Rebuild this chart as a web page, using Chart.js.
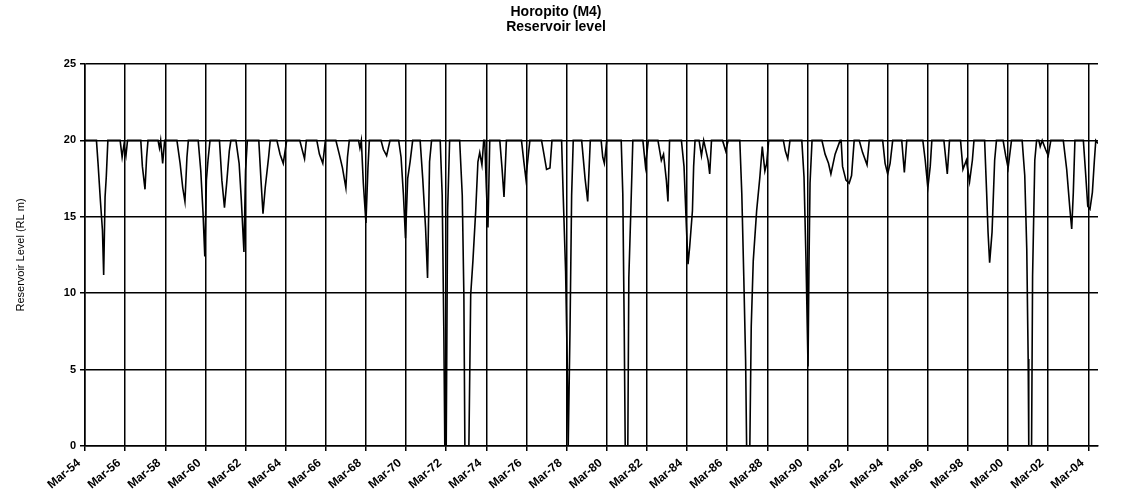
<!DOCTYPE html>
<html>
<head>
  <script src="https://cdn.jsdelivr.net/npm/chart.js"></script>
  <title>Horopito (M4) Reservoir level</title>
  <style>
    body { margin: 0; background: #fff; }
  </style>
</head>
<body>
  <canvas id="levelChart" width="1124" height="494"></canvas>

  <script>
    // x positions are decimal years, y is reservoir level (RL m)
    const years = [
      1954.17,
      1954.74, 1954.82, 1954.94, 1955.04, 1955.10, 1955.17, 1955.23, 1955.31,
      1955.92, 1956.02, 1956.11, 1956.21, 1956.29,
      1956.95, 1957.03, 1957.16, 1957.24, 1957.31,
      1957.81, 1957.88, 1957.94, 1958.04, 1958.14,
      1958.75, 1958.91, 1959.04, 1959.15, 1959.25, 1959.32,
      1959.81, 1959.94, 1960.05, 1960.14, 1960.22, 1960.30, 1960.40,
      1960.87, 1960.99, 1961.12, 1961.23, 1961.36, 1961.44,
      1961.69, 1961.85, 1961.96, 1962.09, 1962.17, 1962.26,
      1962.83, 1962.94, 1963.04, 1963.15, 1963.32, 1963.40,
      1963.73, 1963.89, 1964.05, 1964.22,
      1964.87, 1965.11, 1965.20,
      1965.72, 1965.85, 1966.02, 1966.15,
      1966.67, 1966.84, 1967.00, 1967.17, 1967.25, 1967.34,
      1967.80, 1967.87, 1967.94, 1968.04, 1968.17, 1968.27, 1968.34,
      1968.92, 1969.04, 1969.20, 1969.37,
      1969.80, 1969.92, 1970.04, 1970.14, 1970.25, 1970.37, 1970.50,
      1970.87, 1971.00, 1971.14, 1971.24, 1971.34, 1971.44,
      1971.87, 1971.97, 1972.05, 1972.10, 1972.17, 1972.24, 1972.34,
      1972.84, 1972.97, 1973.05, 1973.10, 1973.30, 1973.39, 1973.50, 1973.64, 1973.75, 1973.84, 1973.95, 1974.04,
      1974.09, 1974.17, 1974.25, 1974.34,
      1974.84, 1974.95, 1975.05, 1975.17,
      1975.92, 1976.04, 1976.14, 1976.25, 1976.34,
      1976.92, 1977.04, 1977.17, 1977.34, 1977.44,
      1977.92, 1978.00, 1978.12, 1978.20, 1978.25, 1978.34, 1978.42, 1978.50,
      1978.92, 1979.09, 1979.22, 1979.35,
      1979.89, 1979.97, 1980.05, 1980.17,
      1980.89, 1980.97, 1981.04, 1981.09, 1981.22, 1981.27, 1981.37, 1981.47,
      1981.97, 1982.10, 1982.24,
      1982.72, 1982.89, 1983.00, 1983.14, 1983.22, 1983.30,
      1983.89, 1984.02, 1984.14, 1984.22, 1984.30, 1984.44, 1984.50, 1984.57,
      1984.77, 1984.89, 1985.00, 1985.22, 1985.30, 1985.39,
      1985.94, 1986.10, 1986.22,
      1986.80, 1986.90, 1987.00, 1987.09, 1987.14, 1987.30, 1987.37, 1987.47, 1987.64, 1987.80, 1987.92, 1988.05, 1988.14, 1988.24,
      1988.97, 1989.07, 1989.19, 1989.30,
      1989.89, 1990.00, 1990.10, 1990.20, 1990.25, 1990.30, 1990.40,
      1990.89, 1991.05, 1991.22, 1991.34, 1991.55, 1991.80,
      1991.85, 1991.92, 1992.09, 1992.25, 1992.37, 1992.50,
      1992.75, 1992.92, 1993.14, 1993.25,
      1993.92, 1994.04, 1994.17, 1994.29, 1994.42,
      1994.87, 1995.00, 1995.12,
      1995.92, 1996.04, 1996.17, 1996.29, 1996.37,
      1996.97, 1997.14, 1997.25,
      1997.80, 1997.92, 1998.09, 1998.25, 1998.39, 1998.47,
      1999.00, 1999.10, 1999.17, 1999.25, 1999.37, 1999.50, 1999.59,
      1999.92, 2000.05, 2000.17, 2000.34,
      2000.87, 2001.00, 2001.10, 2001.17, 2001.20, 2001.34, 2001.39, 2001.50, 2001.59,
      2001.70, 2001.77, 2001.87, 2002.04, 2002.17, 2002.30,
      2002.92, 2003.09, 2003.25, 2003.34, 2003.42, 2003.50,
      2003.92, 2004.04, 2004.14, 2004.25, 2004.37, 2004.47, 2004.54,
      2004.65
    ];
    const levels = [
      20,
      20, 18.5, 16.0, 14.1, 11.2, 16.3, 17.6, 20,
      20, 18.9, 19.7, 19.0, 20,
      20, 18.3, 16.8, 18.9, 20,
      20, 19.5, 20, 18.5, 20,
      20, 18.5, 16.9, 16.0, 18.9, 20,
      20, 18.0, 15.3, 12.4, 17.4, 18.7, 20,
      20, 17.4, 15.6, 17.2, 19.3, 20,
      20, 18.5, 16.1, 12.7, 18.0, 20,
      20, 17.4, 15.2, 16.9, 18.9, 20,
      20, 19.1, 18.5, 20,
      20, 18.8, 20,
      20, 19.1, 18.5, 20,
      20, 19.1, 18.2, 16.9, 18.9, 20,
      20, 19.5, 20, 17.2, 14.6, 18.2, 20,
      20, 19.4, 19.0, 20,
      20, 18.9, 16.4, 13.6, 17.5, 18.6, 20,
      20, 17.5, 14.3, 11.0, 18.6, 20,
      20, 16.4, 7.7, 0, 0, 15.4, 20,
      20, 16.4, 9.9, 0, 0, 9.9, 12.1, 15.4, 18.6, 19.2, 18.4, 20,
      20, 16.9, 14.3, 20,
      20, 18.2, 16.3, 20,
      20, 18.6, 17.5, 18.9, 20,
      20, 19.1, 18.1, 18.2, 20,
      20, 16.4, 11.4, 5.5, 0, 7.7, 16.4, 20,
      20, 17.5, 16.0, 20,
      20, 18.9, 18.5, 20,
      20, 16.5, 7.8, 0, 0, 11.0, 15.4, 20,
      20, 18.3, 20,
      20, 18.7, 19.1, 17.4, 16.0, 20,
      20, 18.3, 14.3, 11.9, 13.0, 15.4, 18.3, 20,
      20, 19.0, 20, 18.7, 17.8, 20,
      20, 19.3, 20,
      20, 16.5, 11.0, 5.6, 0, 0, 7.8, 12.1, 15.4, 17.6, 19.6, 18.0, 18.5, 20,
      20, 19.3, 18.8, 20,
      20, 17.6, 12.1, 5.2, 12.1, 17.2, 20,
      20, 19.1, 18.5, 17.8, 19.1, 20,
      20, 18.3, 17.4, 17.2, 17.7, 20,
      20, 19.2, 18.4, 20,
      20, 18.5, 17.8, 18.5, 20,
      20, 17.9, 20,
      20, 18.7, 16.9, 18.3, 20,
      20, 17.8, 20,
      20, 18.1, 18.7, 17.3, 18.7, 20,
      20, 16.6, 14.0, 12.0, 14.0, 18.7, 20,
      20, 19.0, 18.2, 20,
      20, 17.7, 12.9, 5.7, 0, 0, 11.1, 18.7, 20,
      20, 19.6, 20, 19.4, 19.0, 20,
      20, 18.1, 15.5, 14.2, 16.6, 20,
      20, 17.7, 15.7, 15.5, 16.6, 18.7, 20,
      19.8
    ];

    // March of every second year
    const tickYears = [1954.17, 1956.17, 1958.17, 1960.17, 1962.17, 1964.17, 1966.17, 1968.17, 1970.17,
      1972.17, 1974.17, 1976.17, 1978.17, 1980.17, 1982.17, 1984.17, 1986.17, 1988.17, 1990.17,
      1992.17, 1994.17, 1996.17, 1998.17, 2000.17, 2002.17, 2004.17];
    const tickLabels = ['Mar-54', 'Mar-56', 'Mar-58', 'Mar-60', 'Mar-62', 'Mar-64', 'Mar-66', 'Mar-68', 'Mar-70',
      'Mar-72', 'Mar-74', 'Mar-76', 'Mar-78', 'Mar-80', 'Mar-82', 'Mar-84', 'Mar-86', 'Mar-88', 'Mar-90',
      'Mar-92', 'Mar-94', 'Mar-96', 'Mar-98', 'Mar-00', 'Mar-02', 'Mar-04'];

    const fontFamily = '"Liberation Sans", Arial, sans-serif';

    const ctx = document.getElementById('levelChart').getContext('2d');
    const chart = new Chart(ctx, {
      type: 'line',
      data: {
        datasets: [{
          label: 'Reservoir level',
          data: years.map((x, i) => ({ x: x, y: levels[i] })),
          borderColor: '#000',
          borderWidth: 1.6,
          pointRadius: 0,
          tension: 0
        }]
      },
      options: {
        responsive: false,
        animation: false,
        devicePixelRatio: 1,
        layout: { padding: { left: 14, right: 26, top: 0, bottom: 0 } },
        plugins: {
          legend: { display: false },
          tooltip: { enabled: false },
          title: {
            display: true,
            text: ['Horopito (M4)', 'Reservoir level'],
            color: '#000',
            font: { family: fontFamily, size: 14, weight: 'bold', lineHeight: 1.05 },
            padding: { top: 5, bottom: 29.6 }
          }
        },
        scales: {
          x: {
            type: 'linear',
            min: 1954.17,
            max: 2004.65,
            afterBuildTicks: axis => {
              axis.ticks = tickYears.map(v => ({ value: v }));
            },
            afterFit: scale => { scale.height = 48; },
            ticks: {
              autoSkip: false,
              maxRotation: 40,
              minRotation: 40,
              color: '#000',
              padding: 5,
              labelOffset: -6,
              font: { family: fontFamily, size: 12, weight: 'bold' },
              callback: (value, index) => tickLabels[index]
            },
            grid: { color: '#000', lineWidth: 1.5, tickLength: 5 },
            border: { color: '#000', width: 1.5 }
          },
          y: {
            min: 0,
            max: 25,
            afterFit: scale => { scale.width = 71; },
            ticks: {
              stepSize: 5,
              color: '#000',
              padding: 4,
              font: { family: fontFamily, size: 11, weight: 'bold' }
            },
            grid: { color: '#000', lineWidth: 1.5, tickLength: 5 },
            border: { color: '#000', width: 1.5 },
            title: {
              display: true,
              text: 'Reservoir Level (RL m)',
              color: '#000',
              padding: 0,
              font: { family: fontFamily, size: 11 }
            }
          }
        }
      }
    });
  </script>
</body>
</html>
